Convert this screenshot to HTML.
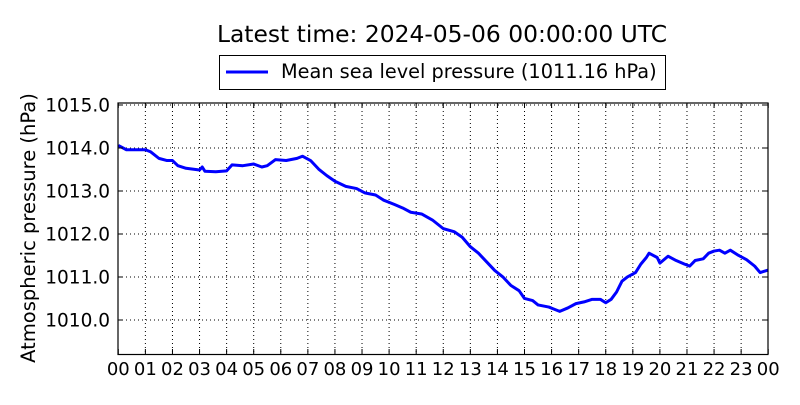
<!DOCTYPE html>
<html><head><style>
html,body{margin:0;padding:0;background:#fff;}
svg text{font-family:"DejaVu Sans","Liberation Sans",sans-serif;}
</style></head><body>
<svg width="800" height="400" xmlns="http://www.w3.org/2000/svg">
<rect width="800" height="400" fill="#fff"/>
<text x="442" y="42" font-size="23.4" text-anchor="middle">Latest time: 2024-05-06 00:00:00 UTC</text>
<rect x="219.5" y="55.5" width="446" height="34" fill="#fff" stroke="#000" stroke-width="1"/>
<line x1="226" y1="72" x2="268" y2="72" stroke="#0000ff" stroke-width="3"/>
<text x="281" y="78" font-size="19.3">Mean sea level pressure (1011.16 hPa)</text>
<g stroke="#000" stroke-width="1" stroke-dasharray="1,3">
<line x1="118" y1="148" x2="768" y2="148"/>
<line x1="118" y1="191" x2="768" y2="191"/>
<line x1="118" y1="234" x2="768" y2="234"/>
<line x1="118" y1="277" x2="768" y2="277"/>
<line x1="118" y1="320" x2="768" y2="320"/>
<line x1="118" y1="105" x2="768" y2="105"/>
</g>
<g stroke="#000" stroke-width="1" stroke-dasharray="1,3" id="vg"></g>
<g transform="translate(118.3,104.5) scale(27.08,-43.1) translate(0,-1015)">
<polyline vector-effect="non-scaling-stroke" fill="none" stroke="#0000ff" stroke-width="3" stroke-linejoin="round" points="
0,1014.05 0.3,1013.95 0.6,1013.95 1,1013.95 1.2,1013.9 1.5,1013.75 1.8,1013.7 2,1013.7 2.2,1013.58 2.5,1013.52 3,1013.48 3.1,1013.55 3.2,1013.45 3.6,1013.44 4,1013.46 4.2,1013.6 4.6,1013.58 5,1013.62 5.3,1013.55 5.5,1013.58 5.8,1013.72 6.2,1013.7 6.6,1013.75 6.8,1013.8 7.1,1013.7 7.4,1013.5 7.7,1013.35 8,1013.22 8.4,1013.1 8.8,1013.05 9.1,1012.95 9.5,1012.9 9.8,1012.78 10.2,1012.68 10.5,1012.6 10.8,1012.5 11.2,1012.46 11.6,1012.32 12,1012.12 12.4,1012.05 12.7,1011.92 13,1011.7 13.3,1011.55 13.6,1011.35 13.9,1011.15 14.2,1011 14.5,1010.8 14.8,1010.68 15,1010.5 15.3,1010.45 15.5,1010.35 15.9,1010.3 16.1,1010.25 16.3,1010.2 16.6,1010.28 16.9,1010.38 17.2,1010.42 17.5,1010.48 17.8,1010.48 18,1010.4 18.2,1010.48 18.4,1010.65 18.6,1010.9 18.8,1011 19.1,1011.1 19.3,1011.3 19.5,1011.45 19.6,1011.55 19.9,1011.45 20,1011.32 20.3,1011.48 20.6,1011.38 20.9,1011.3 21.1,1011.25 21.3,1011.38 21.6,1011.42 21.8,1011.55 22,1011.6 22.2,1011.62 22.4,1011.55 22.6,1011.62 22.9,1011.5 23.2,1011.4 23.5,1011.25 23.7,1011.1 24,1011.16"/>
</g>
<rect x="118" y="103" width="650" height="251.5" fill="none" stroke="#000" stroke-width="1.2"/>
<g id="tk" stroke="#000" stroke-width="1"></g>
<g id="yl" font-size="18.5" text-anchor="end">
<text x="110" y="111.5">1015.0</text>
<text x="110" y="154.5">1014.0</text>
<text x="110" y="197.5">1013.0</text>
<text x="110" y="240.5">1012.0</text>
<text x="110" y="283.5">1011.0</text>
<text x="110" y="326.5">1010.0</text>
</g>
<g id="xl" font-size="18" text-anchor="middle"></g>
<text transform="translate(35,228) rotate(-90)" font-size="19.5" text-anchor="middle">Atmospheric pressure (hPa)</text>
<script>
var ns="http://www.w3.org/2000/svg",vg=document.getElementById("vg"),tk=document.getElementById("tk"),xl=document.getElementById("xl");
function L(g,a,b,c,d){var l=document.createElementNS(ns,"line");l.setAttribute("x1",a);l.setAttribute("y1",b);l.setAttribute("x2",c);l.setAttribute("y2",d);g.appendChild(l);}
for(var h=0;h<=24;h++){var x=118.3+h*27.08;
if(h>0&&h<24)L(vg,x,103,x,354);
L(tk,x,354,x,349);L(tk,x,103,x,108);
var t=document.createElementNS(ns,"text");t.setAttribute("x",x);t.setAttribute("y",375);t.textContent=(h%24<10?"0":"")+(h%24);xl.appendChild(t);}
[105,148,191,234,277,320].forEach(function(y){L(tk,118,y,123,y);L(tk,768,y,763,y);});
</script>
</svg>
</body></html>
